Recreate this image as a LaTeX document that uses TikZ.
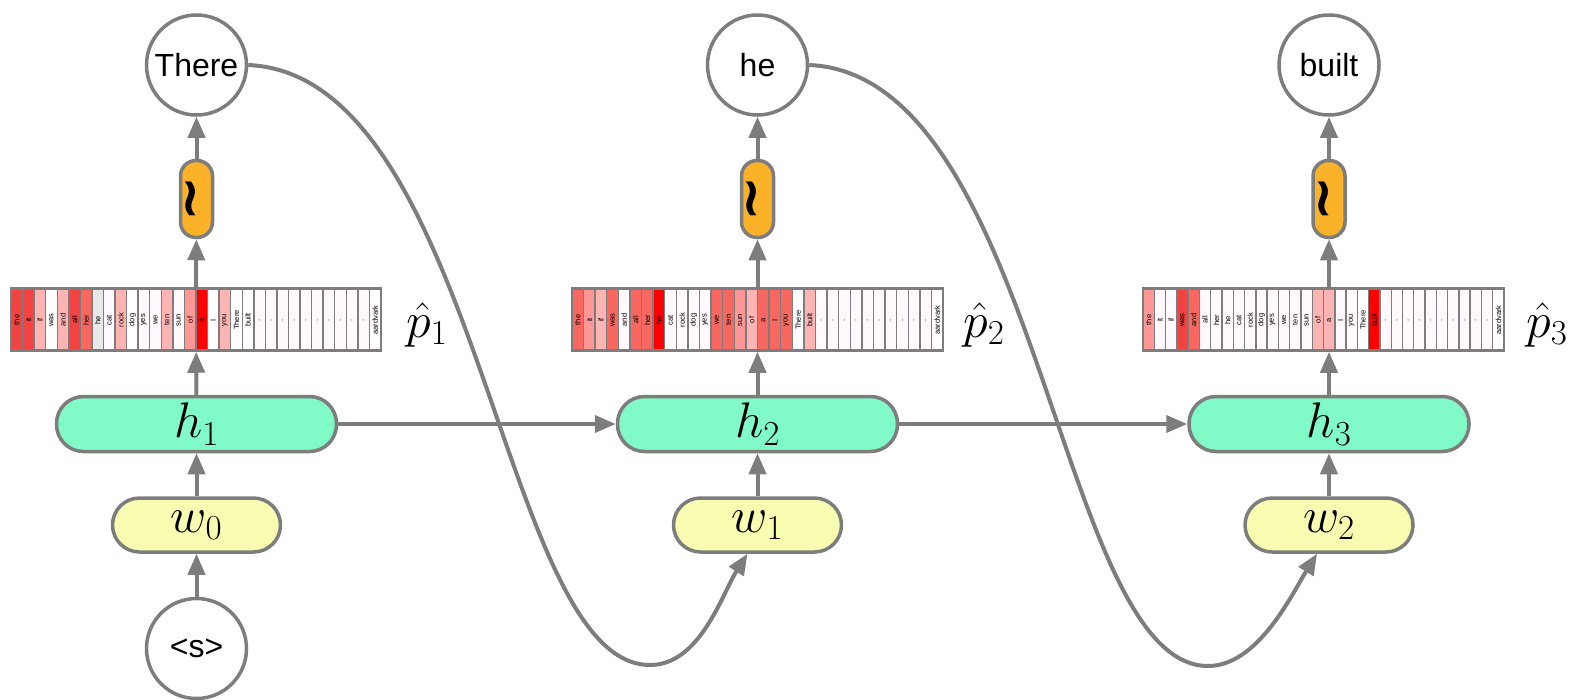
\RequirePackage{fix-cm}
\documentclass[tikz,border=0pt]{standalone}
\usepackage{amsmath}
\usepackage{fontspec}
\setsansfont{Liberation Sans}
\newfontfamily\symfont{DejaVu Sans}
\usetikzlibrary{arrows.meta}
\definecolor{lg}{RGB}{125,125,125}
\definecolor{hfill}{RGB}{128,250,198}
\definecolor{wfill}{RGB}{248,252,176}
\definecolor{pfill}{RGB}{251,178,40}
\definecolor{cA}{RGB}{255,0,0}
\definecolor{cB}{RGB}{242,66,66}
\definecolor{cC}{RGB}{248,104,96}
\definecolor{cD}{RGB}{255,150,150}
\definecolor{cE}{RGB}{255,180,180}
\definecolor{cF}{RGB}{255,248,252}
\definecolor{cG}{RGB}{232,232,232}
\definecolor{cW}{RGB}{255,255,255}
\tikzset{
  conn/.style={draw=lg, line width=4pt, -{Triangle[length=21pt,width=17pt]}},
  wordcirc/.style={circle, draw=lg, line width=3.5pt, fill=white, minimum size=100pt, inner sep=0pt,
    font=\sffamily\fontsize{32}{36}\selectfont},
  hbox/.style={rectangle, rounded corners=27pt, draw=lg, line width=3.5pt, fill=hfill,
    minimum width=280pt, minimum height=55pt, inner sep=0pt, font=\fontsize{50}{60}\selectfont},
  wbox/.style={rectangle, rounded corners=27pt, draw=lg, line width=3.5pt, fill=wfill,
    minimum width=168pt, minimum height=54pt, inner sep=0pt, font=\fontsize{50}{60}\selectfont},
  pill/.style={rectangle, rounded corners=15.5pt, draw=lg, line width=3.5pt, fill=pfill,
    minimum width=32pt, minimum height=77pt, inner sep=0pt},
  cellbox/.style={draw=lg, line width=1.4pt},
  celltext/.style={font=\sffamily\fontsize{7.5}{8}\selectfont, rotate=90, inner sep=0pt},
  barframe/.style={rectangle, draw=lg, line width=2.5pt, minimum height=62pt, inner sep=0pt},
  plabel/.style={font=\fontsize{50}{60}\selectfont, inner sep=0pt, anchor=base west},
}
\newcommand{\tildesym}{\rotatebox{90}{\symfont\bfseries\fontsize{54}{58}\selectfont ∼}}
\newcommand{\probcells}[3]{%
  \foreach \w/\c [count=\i from 0] in {#3} {
    \pgfmathsetmacro{\cw}{#2/32}
    \draw[cellbox, fill=\c] (#1+\i*\cw, 288.5) rectangle ++(\cw, 62);
    \node[celltext] at (#1+\i*\cw+\cw/2, 320) {\w};
  }%
}
\begin{document}
\begin{tikzpicture}[x=1pt,y=-1pt]
\useasboundingbox (0,0) rectangle (1578,699);

% probability bars
\probcells{11}{370}{the/cB,it/cB,if/cE,was/cW,and/cE,all/cB,her/cC,he/cG,cat/cF,rock/cE,dog/cW,yes/cF,we/cF,ten/cE,sun/cF,of/cD,a/cA,I/cW,you/cE,There/cW,built/cW,./cF,./cF,./cF,./cF,./cF,./cF,./cF,./cF,./cF,./cF,aardvark/cW}
\probcells{572}{371}{the/cC,it/cD,if/cE,was/cC,and/cF,all/cC,her/cC,he/cA,cat/cF,rock/cF,dog/cF,yes/cF,we/cC,ten/cC,sun/cD,of/cE,a/cC,I/cC,you/cC,There/cW,built/cE,./cF,./cF,./cF,./cF,./cF,./cF,./cF,./cF,./cF,./cF,aardvark/cW}
\probcells{1143}{361}{the/cD,it/cF,if/cF,was/cB,and/cC,all/cF,her/cF,he/cF,cat/cF,rock/cF,dog/cF,yes/cF,we/cF,ten/cF,sun/cF,of/cE,a/cE,I/cF,you/cF,There/cW,built/cA,./cF,./cF,./cF,./cF,./cF,./cF,./cF,./cF,./cF,./cF,aardvark/cW}
\node[barframe, minimum width=370pt] (bar1) at (196,319.5) {};
\node[barframe, minimum width=371pt] (bar2) at (757.5,319.5) {};
\node[barframe, minimum width=361pt] (bar3) at (1323.5,319.5) {};

\node[plabel] (p1) at (406,337) {$\hat{p}_1$};
\node[plabel] (p2) at (963,337) {$\hat{p}_2$};
\node[plabel] (p3) at (1526,337) {$\hat{p}_3$};

% column 1
\node[wordcirc] (o1) at (196.5,65) {There};
\node[pill] (s1) at (196.5,199) {\tildesym};
\node[hbox] (h1) at (196.5,424) {$h_1$};
\node[wbox] (w0) at (196.5,525) {$w_0$};
\node[wordcirc] (start) at (196.5,648.5) {<s>};

% column 2
\node[wordcirc] (o2) at (757.5,65) {he};
\node[pill] (s2) at (757.5,199) {\tildesym};
\node[hbox] (h2) at (757.5,424) {$h_2$};
\node[wbox] (w1) at (757.5,525) {$w_1$};

% column 3
\node[wordcirc] (o3) at (1329,65) {built};
\node[pill] (s3) at (1329,199) {\tildesym};
\node[hbox] (h3) at (1329,424) {$h_3$};
\node[wbox] (w2) at (1329,525) {$w_2$};

% vertical connectors
\draw[conn] (start) -- (w0);
\draw[conn] (w0) -- (h1);
\draw[conn] (h1) -- (bar1);
\draw[conn] (bar1) -- (s1);
\draw[conn] (s1) -- (o1);

\draw[conn] (w1) -- (h2);
\draw[conn] (h2) -- (bar2);
\draw[conn] (bar2) -- (s2);
\draw[conn] (s2) -- (o2);

\draw[conn] (w2) -- (h3);
\draw[conn] (h3.north) -- (h3.north |- bar3.south);
\draw[conn] (bar3.north -| s3) -- (s3);
\draw[conn] (s3) -- (o3);

% recurrent connectors
\draw[conn] (h1) -- (h2);
\draw[conn] (h2) -- (h3);

% feedback curves
\coordinate (b1) at (650,665);
\coordinate (b2) at (1208,666);
\draw[conn] (o1.east) .. controls (480,75) and (500,665) .. (b1)
  .. controls (700,665) and (722,594) .. ([xshift=-10pt]w1.south);
\draw[conn] (o2.east) .. controls (1040,75) and (1058,666) .. (b2)
  .. controls (1258,666) and (1292,594) .. ([xshift=-12pt]w2.south);
\end{tikzpicture}
\end{document}
